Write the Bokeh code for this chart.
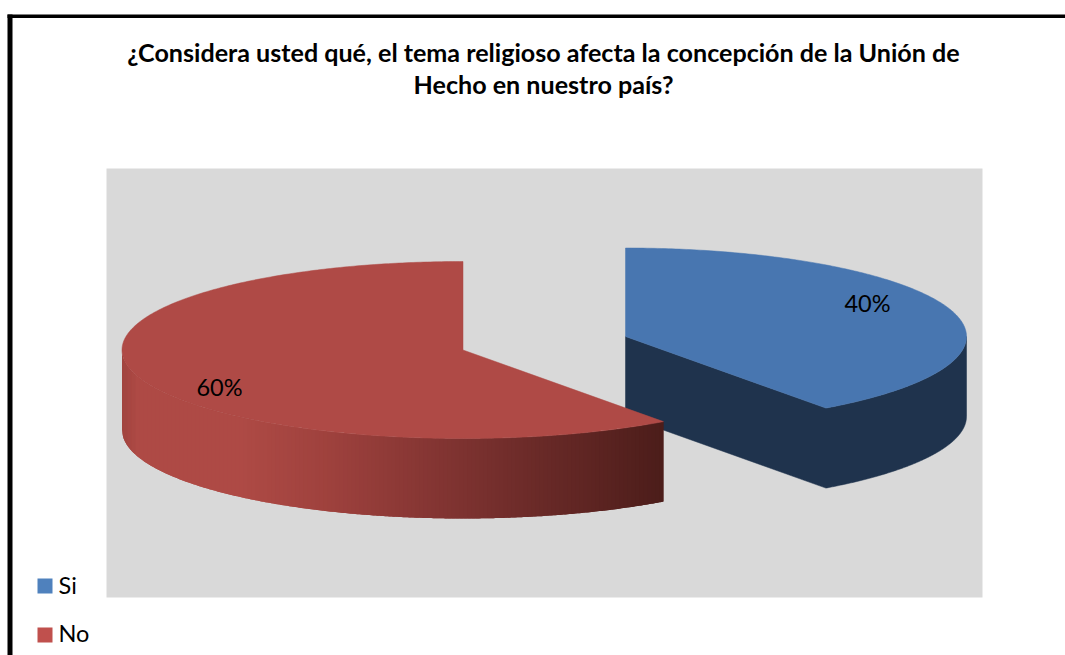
import numpy as np
from bokeh.plotting import figure
from bokeh.models import Range1d
from bokeh.core.properties import value
from bokeh.embed import file_html
from bokeh.resources import INLINE

categories = ["Si", "No"]
percent = [40, 60]
title_lines = ["¿Considera usted qué, el tema religioso afecta la concepción de la Unión de",
               "Hecho en nuestro país?"]

# layout (page pixels, the ranges below map them one to one)
W, H = 1065, 655
rx, ry, depth = 341, 88.5, 80
centers = [(625, 336), (462.5, 349.5)]
label_pos = [(867, 302), (219, 386)]
legend_y = [578, 627]
legend_text = [(58, 584.5), (58, 632.5)]
top_colors = ["#4876b0", "#af4a46"]
legend_colors = ["#4f81bd", "#c0504d"]
blue_wall = "#1f334d"
FONT = value("Lato")

p = figure(width=W, height=H, x_range=Range1d(0, W), y_range=Range1d(H, 0),
           output_backend="svg", toolbar_location=None, min_border=0,
           background_fill_color="white", border_fill_color="white",
           outline_line_color=None)
p.axis.visible = False
p.grid.visible = False

# frame
p.quad(left=[7], right=[W], top=[14], bottom=[17.5], fill_color="black", line_color=None)
p.quad(left=[7], right=[12], top=[14], bottom=[H], fill_color="black", line_color=None)
# plot area
p.quad(left=[106], right=[982], top=[168], bottom=[597], fill_color="#d9d9d9", line_color=None)

ang = np.cumsum([0] + percent) / 100 * 2 * np.pi  # clockwise from 12 o'clock


def arc(c, a0, a1, n=240, dy=0):
    t = np.linspace(a0, a1, n)
    return c[0] + rx * np.sin(t), c[1] - ry * np.cos(t) + dy


# Si: wall then top face
c = centers[0]
a0, a1 = ang[0], ang[1]
xbr, ybr = arc(c, a1, np.pi / 2, dy=depth)
xt, yt = arc(c, np.pi / 2, a1)
p.patch(list(np.r_[c[0], c[0], xbr, xt]), list(np.r_[c[1], c[1] + depth, ybr, yt]),
        fill_color=blue_wall, line_color=blue_wall, line_width=0.5)
x, y = arc(c, a0, a1)
p.patch(list(np.r_[c[0], x]), list(np.r_[c[1], y]), fill_color=top_colors[0],
        line_color=top_colors[0], line_width=0.5)

# No: shaded wall then top face
c = centers[1]
a0, a1 = ang[1], ang[2]
stops_x = [121, 137, 240, 330, 400, 500, 663]
stops_c = [(160, 67, 63), (174, 74, 69), (174, 74, 69), (158, 65, 61), (140, 57, 54),
           (115, 46, 44), (76, 29, 26)]
edges = np.arange(c[0] + rx * np.sin(a0), c[0] - rx - 3, -4.0)
edges[-1] = c[0] - rx
# walk the wall from the right end to the left end, in equal x steps
tx = np.pi + np.arcsin(np.clip((c[0] - edges) / rx, -1, 1))
xs, ys, cols = [], [], []
for i in range(len(tx) - 1, 0, -1):
    # each strip overlaps its right neighbour; painted left to right so no seams show
    tt = np.linspace(tx[i], tx[max(i - 2, 0)], 5)
    sx = c[0] + rx * np.sin(tt)
    sy = c[1] - ry * np.cos(tt)
    xs.append(list(np.r_[sx, sx[::-1]]))
    ys.append(list(np.r_[sy, sy[::-1] + depth]))
    mx = 0.5 * (edges[i] + edges[i - 1])
    rgb = [int(round(np.interp(mx, stops_x, [s[k] for s in stops_c]))) for k in range(3)]
    cols.append("#%02x%02x%02x" % tuple(rgb))
p.patches(xs, ys, fill_color=cols, line_color=None)
x, y = arc(c, a0, a1, n=360)
p.patch(list(np.r_[c[0], x]), list(np.r_[c[1], y]), fill_color=top_colors[1],
        line_color=top_colors[1], line_width=0.5)

# data labels
p.text([q[0] for q in label_pos], [q[1] for q in label_pos], text=[f"{v}%" for v in percent],
       text_font=FONT, text_font_size="23.5px", text_color="#000000",
       text_align="center", text_baseline="middle")

# title
p.text([543, 543], [51, 83], text=title_lines, text_font=FONT, text_font_size="25.1px",
       text_font_style="bold", text_color="#000000", text_align="center", text_baseline="middle")

# legend
p.quad(left=[37, 37], right=[52, 52], top=legend_y, bottom=[v + 15 for v in legend_y],
       fill_color=legend_colors, line_color=None)
p.text([q[0] for q in legend_text], [q[1] for q in legend_text], text=categories,
       text_font=FONT, text_font_size="23.5px", text_color="#000000",
       text_align="left", text_baseline="middle")

open("out.html", "w").write(file_html(p, INLINE))
